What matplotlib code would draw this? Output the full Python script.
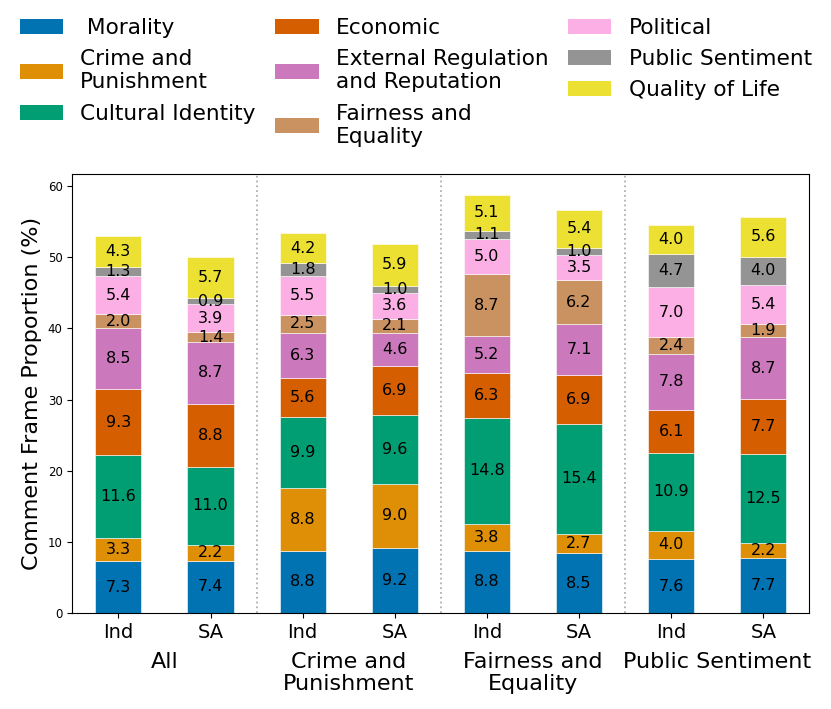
import matplotlib
matplotlib.use("Agg")
import matplotlib.pyplot as plt
from matplotlib.patches import Patch
import numpy as np

plt.rcParams["font.family"] = ["DejaVu Sans"]

bar_labels = ["Ind", "SA", "Ind", "SA", "Ind", "SA", "Ind", "SA"]
groups = ["All", "Crime and\nPunishment", "Fairness and\nEquality", "Public Sentiment"]
frames = [" Morality", "Crime and\nPunishment", "Cultural Identity", "Economic",
          "External Regulation\nand Reputation", "Fairness and\nEquality",
          "Political", "Public Sentiment", "Quality of Life"]
colors = ["#0173b2", "#de8f05", "#029e73", "#d55e00", "#cc78bc",
          "#ca9161", "#fbafe4", "#949494", "#ece133"]

# one list per frame, one value per bar (bottom to top of stack)
morality = [7.3, 7.4, 8.8, 9.2, 8.8, 8.5, 7.6, 7.7]
crime = [3.3, 2.2, 8.8, 9.0, 3.8, 2.7, 4.0, 2.2]
cultural = [11.6, 11.0, 9.9, 9.6, 14.8, 15.4, 10.9, 12.5]
economic = [9.3, 8.8, 5.6, 6.9, 6.3, 6.9, 6.1, 7.7]
external = [8.5, 8.7, 6.3, 4.6, 5.2, 7.1, 7.8, 8.7]
fairness = [2.0, 1.4, 2.5, 2.1, 8.7, 6.2, 2.4, 1.9]
political = [5.4, 3.9, 5.5, 3.6, 5.0, 3.5, 7.0, 5.4]
sentiment = [1.3, 0.9, 1.8, 1.0, 1.1, 1.0, 4.7, 4.0]
quality = [4.3, 5.7, 4.2, 5.9, 5.1, 5.4, 4.0, 5.6]

series = [morality, crime, cultural, economic, external, fairness,
          political, sentiment, quality]

fig = plt.figure(figsize=(8.31, 7.09), dpi=100)
ax = fig.add_axes([0.087, 0.135, 0.887, 0.62])

x = np.arange(len(bar_labels))
bottom = np.zeros(len(bar_labels))
for vals, col in zip(series, colors):
    vals = np.array(vals)
    bars = ax.bar(x, vals, 0.5, bottom=bottom, color=col,
                  edgecolor="white", linewidth=0.4)
    ax.bar_label(bars, labels=[f"{v:.1f}" for v in vals], label_type="center",
                 fontsize=11.5, color="black")
    bottom += vals

for sep in [1.5, 3.5, 5.5]:
    ax.axvline(sep, color="#b0b0b0", linestyle=":", linewidth=1.3)

ax.set_xlim(-0.5, 7.5)
ax.set_xticks(x)
ax.set_xticklabels(bar_labels, fontsize=14)
ax.tick_params(axis="y", labelsize=8.5)
ax.set_ylabel("Comment Frame Proportion (%)", fontsize=16)

for i, g in enumerate(groups):
    ax.text(2 * i + 0.5, -0.088, g, transform=ax.get_xaxis_transform(),
            ha="center", va="top", fontsize=16, linespacing=1.15)

handles = [Patch(facecolor=c) for c in colors]
fig.legend(handles, frames, ncol=3, loc="upper left",
           bbox_to_anchor=(0.008, 0.993), frameon=False, fontsize=15.6,
           handlelength=2.0, handleheight=0.7, handletextpad=0.8,
           columnspacing=0.9, labelspacing=0.52, borderaxespad=0.2)

fig.savefig("out.png", dpi=100)
